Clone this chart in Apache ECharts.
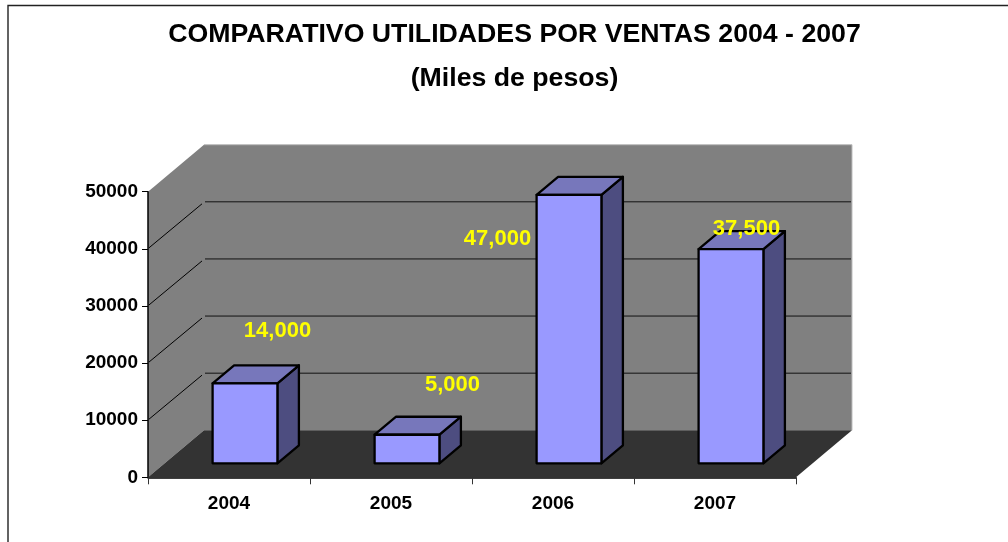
<!DOCTYPE html>
<html>
<head>
<meta charset="utf-8">
<style>html,body{margin:0;padding:0;background:#fff;overflow:hidden}#c{width:1008px;height:542px}</style>
<script src="https://cdn.jsdelivr.net/npm/echarts@6/dist/echarts.min.js"></script>
</head>
<body>
<div id="c"></div>
<script>
const titleText = 'COMPARATIVO UTILIDADES POR VENTAS 2004 - 2007\n(Miles de pesos)';
const categories = ['2004', '2005', '2006', '2007'];
const values = [14000, 5000, 47000, 37500];
const yTicks = [0, 10000, 20000, 30000, 40000, 50000];
// manual label placement of the original, relative to each bar's top-front centre
const labelShift = [[32, -52], [45, -50], [-72, 44], [15, -20]];

const FONT = '"Liberation Sans", Arial, sans-serif';
const WALL = [56, -47];         // depth of the chart box
const BAR_FRONT = [16, -14];    // how far bars stand from the front edge
const BAR_DEPTH = [21.5, -18];  // depth of each bar
const BAR_RATIO = 0.4;

function poly(points, fill, stroke, lineWidth) {
  return {
    type: 'polygon',
    shape: { points: points },
    style: { fill: fill, stroke: stroke || 'none', lineWidth: lineWidth || 0, lineJoin: 'round' }
  };
}
function line(a, b, color, width) {
  return {
    type: 'line',
    shape: { x1: a[0], y1: a[1], x2: b[0], y2: b[1] },
    style: { stroke: color, lineWidth: width, fill: 'none' }
  };
}

function renderBox(params, api) {
  const v = api.value(0);
  const cs = params.coordSys;
  const x0 = cs.x, x1 = cs.x + cs.width;
  const base = api.coord([0, 0])[1];
  const y = api.coord([0, v])[1];
  const dx = WALL[0], dy = WALL[1];
  const out = [];
  if (v === 0) {
    const top = api.coord([0, yTicks[yTicks.length - 1]])[1];
    out.push(poly([[x0, base], [x0 + dx, base + dy], [x0 + dx, top + dy], [x0, top]], '#808080'));
    out.push(poly([[x0 + dx, base + dy], [x1 + dx, base + dy], [x1 + dx, top + dy], [x0 + dx, top + dy]], '#808080'));
    out.push(poly([[x0, base], [x1, base], [x1 + dx, base + dy], [x0 + dx, base + dy]], '#333333'));
    out.push({
      type: 'polyline',
      shape: { points: [[x0 + dx, top + dy], [x1 + dx, top + dy], [x1 + dx, base + dy]] },
      style: { stroke: '#bdbdbd', lineWidth: 1, fill: 'none' }
    });
  } else if (v < yTicks[yTicks.length - 1]) {
    out.push(line([x0 + 1, y - 1], [x0 + dx - 2, y + dy + 2], '#000', 1));
    out.push(line([x0 + dx + 1, y + dy], [x1 + dx - 1, y + dy], '#111', 1));
  }
  return { type: 'group', children: out };
}

function renderBar(params, api) {
  const i = api.value(0);
  const v = api.value(1);
  const band = api.size([1, 0])[0];
  const w = band * BAR_RATIO;
  const c = api.coord([i, v]);
  const b = api.coord([i, 0]);
  const l = c[0] + BAR_FRONT[0] - w / 2, r = l + w;
  const t = c[1] + BAR_FRONT[1], u = b[1] + BAR_FRONT[1];
  const ox = BAR_DEPTH[0], oy = BAR_DEPTH[1];
  const S = '#000', W = 2.3;
  return {
    type: 'group',
    children: [
      poly([[r, t], [r + ox, t + oy], [r + ox, u + oy], [r, u]], '#4D4D80', S, W),
      poly([[l, t], [l + ox, t + oy], [r + ox, t + oy], [r, t]], '#7777BB', S, W),
      poly([[l, t], [r, t], [r, u], [l, u]], '#9999FF', S, W)
    ]
  };
}

function renderLabel(params, api) {
  const i = api.value(0);
  const v = api.value(1);
  const c = api.coord([i, v]);
  const s = labelShift[i];
  return {
    type: 'text',
    x: c[0] + 16.5 + s[0],
    y: c[1] - 14 + s[1],
    style: {
      text: v.toLocaleString('en-US'),
      fill: '#FFFF00',
      font: 'bold 22px ' + FONT,
      align: 'center',
      verticalAlign: 'middle'
    }
  };
}

const barData = values.map((v, i) => [i, v]);
const chart = echarts.init(document.getElementById('c'), null, { renderer: 'canvas' });
chart.setOption({
  animation: false,
  backgroundColor: '#fff',
  title: {
    text: titleText,
    left: 509.5,
    top: 8,
    textAlign: 'center',
    textStyle: { fontFamily: FONT, fontWeight: 'bold', fontSize: 26.7, color: '#000', lineHeight: 44 }
  },
  grid: { left: 148, top: 191.7, width: 648, height: 285.6, containLabel: false },
  xAxis: {
    type: 'category',
    data: categories,
    z: 5,
    axisLine: { lineStyle: { color: '#000', width: 1.5 } },
    axisTick: { show: true, length: 7, lineStyle: { color: '#333', width: 1 } },
    axisLabel: { color: '#000', fontFamily: FONT, fontWeight: 'bold', fontSize: 19, margin: 17 },
    splitLine: { show: false }
  },
  yAxis: {
    type: 'value',
    min: 0,
    max: 50000,
    interval: 10000,
    z: 5,
    axisLine: { show: true, lineStyle: { color: '#000', width: 1.5 } },
    axisTick: { show: true, length: 6, lineStyle: { color: '#000', width: 1 } },
    axisLabel: { color: '#000', fontFamily: FONT, fontWeight: 'bold', fontSize: 19, margin: 10, padding: [3, 0, 0, 0], formatter: v => String(v) },
    splitLine: { show: false }
  },
  series: [
    { type: 'custom', z: 1, renderItem: renderBox, data: yTicks.map(v => [v]), encode: { y: 0 }, silent: true },
    { type: 'custom', z: 3, renderItem: renderBar, data: barData, encode: { x: 0, y: 1 }, silent: true },
    { type: 'custom', z: 4, renderItem: renderLabel, data: barData, encode: { x: 0, y: 1 }, silent: true }
  ],
  graphic: [{
    type: 'polyline',
    z: 10,
    silent: true,
    shape: { points: [[8, 542], [8, 5.5], [1008, 5.5]] },
    style: { stroke: '#222', lineWidth: 1.4, fill: 'none' }
  }]
});
</script>
</body>
</html>
